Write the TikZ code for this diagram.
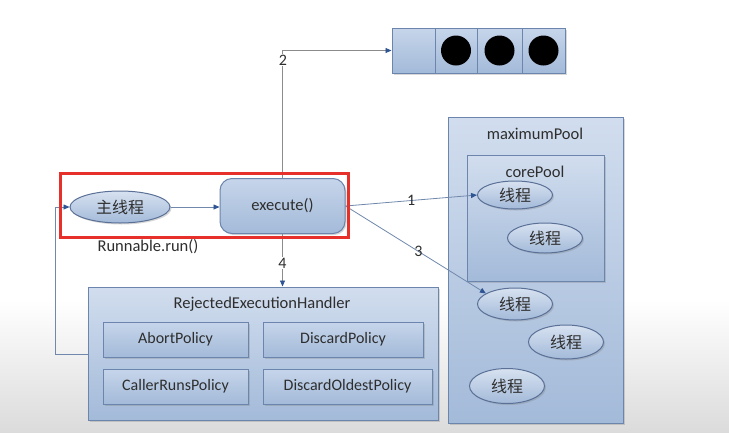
\documentclass[tikz,border=0pt]{standalone}
\usepackage{fontspec}
\setmainfont{Carlito}
\newfontfamily\cjk{Noto Sans CJK SC}
\usetikzlibrary{arrows.meta,shadows,shapes.geometric}
\definecolor{boxtop}{HTML}{C6D5EA}
\definecolor{boxbot}{HTML}{A3BAD9}
\definecolor{boxline}{HTML}{6C85AC}
\definecolor{ellline}{HTML}{5A7096}
\definecolor{txt}{HTML}{2E2E2E}
\definecolor{conncol}{HTML}{7088AC}
\definecolor{graycol}{HTML}{8C8C8C}
\definecolor{tipcol}{HTML}{2E5494}
\definecolor{redframe}{HTML}{E8302A}
\begin{document}
\begin{tikzpicture}[x=1pt,y=-1pt,
  shad/.style={drop shadow={opacity=0.3,shadow xshift=1.5pt,shadow yshift=-1.5pt}},
  box/.style={draw=boxline,line width=1pt,top color=boxtop,bottom color=boxbot,inner sep=0pt,shad},
  cont/.style={box,top color=boxtop!80!white,bottom color=boxbot},
  ell/.style={ellipse,box,draw=ellline,top color=boxtop!70!white,minimum width=75pt,minimum height=30pt,font=\cjk\fontsize{16}{16}\selectfont,text=txt},
  pol/.style={box,minimum height=35pt,font=\fontsize{16}{16}\selectfont,text=txt},
  lbl/.style={font=\fontsize{16.5}{16.5}\selectfont,text=txt,inner sep=1pt},
  num/.style={font=\fontsize{16}{16}\selectfont,text=txt,fill=white,inner sep=1pt},
  conn/.style={draw=conncol,line width=0.8pt,-{Triangle[length=6pt,width=5pt,color=tipcol]}},
  gconn/.style={conn,draw=graycol}]
\useasboundingbox (0,0) rectangle (729,432);
\fill[white] (0,0) rectangle (729,432);
\shade[top color=white,bottom color=black!14] (0,300) rectangle (729,432);

% queue
\node[box,minimum width=43pt,minimum height=45pt] (q0) at (413.5,50.5) {};
\node[box,minimum width=42pt,minimum height=45pt] (q1) at (456,50.5) {};
\node[box,minimum width=45pt,minimum height=45pt] (q2) at (499.5,50.5) {};
\node[box,minimum width=43pt,minimum height=45pt] (q3) at (543.5,50.5) {};
\foreach \c in {q1,q2,q3}{\fill[black] (\c.center) circle (15pt);}

% pools
\node[cont,minimum width=175pt,minimum height=306pt] (maxp) at (535.5,270) {};
\node[lbl] (maxt) at (535,134) {maximumPool};
\node[cont,minimum width=137pt,minimum height=126pt] (corep) at (535.5,218) {};
\node[lbl] (coret) at (535,172) {corePool};
\node[ell,minimum height=28pt] (t1) at (515,195) {线程};
\node[ell] (t2) at (545,238) {线程};
\node[ell,minimum height=32pt] (t3) at (515,304) {线程};
\node[ell,minimum height=34pt] (t4) at (566,342) {线程};
\node[ell,minimum height=35pt] (t5) at (507,386) {线程};

% handler
\node[cont,minimum width=350pt,minimum height=133pt] (hand) at (263,353.5) {};
\node[lbl] (handt) at (262,304) {RejectedExecutionHandler};
\node[pol,minimum width=145pt] (abort) at (175.5,339.5) {AbortPolicy};
\node[pol,minimum width=160pt] (disc) at (343,339.5) {DiscardPolicy};
\node[pol,minimum width=145pt] (caller) at (175.5,386.5) {CallerRunsPolicy};
\node[pol,minimum width=169pt] (oldest) at (347.5,386.5) {DiscardOldestPolicy};

% main flow
\node[ell,minimum width=100pt,minimum height=32pt] (main) at (120,207) {主线程};
\node[box,rounded corners=12pt,minimum width=125pt,minimum height=55pt,font=\fontsize{16.5}{16.5}\selectfont,text=txt] (exec) at (282.5,206) {execute()};
\node[lbl] (run) at (148,247) {Runnable.run()};

\draw[conn] (main.east) -- (exec.west |- main.east);
\draw[gconn] (exec.north) -- (exec.north |- q0.west) -- (q0.west);
\node[num] (n2) at (283,60) {2};
\draw[gconn] (exec.south) -- (exec.south |- hand.north) node[num,pos=0.55] (n4) {4};
\draw[conn] (exec.east) -- (t1.west) node[num,pos=0.5,fill=none] (n1) {1};
\draw[conn] (exec.east) -- (t3.160) node[num,pos=0.52,fill=none] (n3) {3};
\coordinate (lp) at (55,354);
\draw[conn] (hand.west |- lp) -- (lp) |- (main.west);

% selection frame
\node[draw=redframe,line width=3pt,minimum width=288pt,minimum height=64pt,inner sep=0pt] (sel) at (204,205) {};
\end{tikzpicture}
\end{document}
